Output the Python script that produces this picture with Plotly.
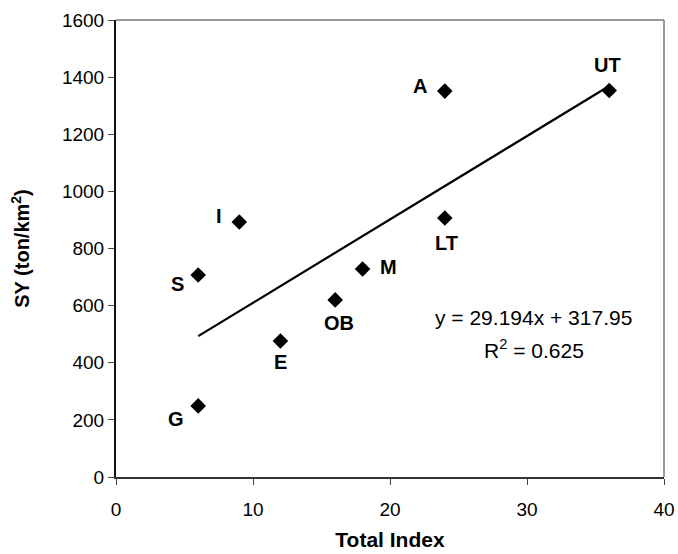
import plotly.graph_objects as go

labels = ["I", "S", "G", "E", "OB", "M", "A", "LT", "UT"]
total_index = [9, 6, 6, 12, 16, 18, 24, 24, 36]
sy = [893, 707, 249, 476, 620, 728, 1351, 907, 1353]
slope = 29.194
intercept = 317.95
r2 = 0.625
x_ticks = [0, 10, 20, 30, 40]
y_ticks = [0, 200, 400, 600, 800, 1000, 1200, 1400, 1600]

# label offsets in pixels (dx right, dy up)
offsets = {"I": (-20, 6), "S": (-21, -9), "G": (-22, -13), "E": (0, -21),
           "OB": (4, -23), "M": (26, 2), "A": (-25, 5), "LT": (2, -25), "UT": (-2, 26)}

FONT = "Liberation Sans, Arial, sans-serif"

fig = go.Figure()
xmin, xmax = min(total_index), max(total_index)
fig.add_trace(go.Scatter(x=[xmin, xmax], y=[slope * xmin + intercept, slope * xmax + intercept],
                         mode="lines", line=dict(color="black", width=2.2), showlegend=False,
                         hoverinfo="skip"))
fig.add_trace(go.Scatter(x=total_index, y=sy, mode="markers",
                         marker=dict(symbol="diamond", size=12, color="black"),
                         showlegend=False))

for lab, xv, yv in zip(labels, total_index, sy):
    dx, dy = offsets[lab]
    fig.add_annotation(x=xv, y=yv, text=f"<b>{lab}</b>", showarrow=False,
                       xshift=dx, yshift=dy, xanchor="center", yanchor="middle",
                       font=dict(family=FONT, size=20, color="black"))

fig.add_annotation(x=30.5, y=557, text=f"y = {slope}x + {intercept}", showarrow=False,
                   xanchor="center", yanchor="middle",
                   font=dict(family=FONT, size=21, color="black"))
fig.add_annotation(x=30.5, y=448, text=f"R<sup>2</sup> = {r2}", showarrow=False,
                   xanchor="center", yanchor="middle",
                   font=dict(family=FONT, size=21, color="black"))

fig.update_xaxes(range=[0, 40], tickvals=x_ticks, ticks="outside", ticklen=6,
                 tickcolor="#444", showgrid=False, zeroline=False, automargin=False,
                 showline=True, linecolor="#333", linewidth=2, mirror=False,
                 ticklabelstandoff=8,
                 tickfont=dict(family=FONT, size=19, color="black"),
                 title=dict(text="<b>Total Index</b>", font=dict(family=FONT, size=21, color="black"),
                            standoff=14))
fig.update_yaxes(range=[0, 1600], tickvals=y_ticks, ticks="outside", ticklen=6,
                 tickcolor="#444", showgrid=False, zeroline=False, automargin=False,
                 showline=True, linecolor="#111", linewidth=2, mirror=False,
                 tickfont=dict(family=FONT, size=19, color="black"),
                 title=dict(text="<b>SY (ton/km<sup>2</sup>)</b>", font=dict(family=FONT, size=20, color="black"),
                            standoff=27))

# top and right frame (gray)
fig.add_shape(type="line", xref="paper", yref="paper", x0=0, x1=1, y0=1, y1=1,
              line=dict(color="#777", width=1.5))
fig.add_shape(type="line", xref="paper", yref="paper", x0=1, x1=1, y0=0, y1=1,
              line=dict(color="#777", width=1.5))

fig.update_layout(width=678, height=554, margin=dict(l=116, r=14, t=20, b=77),
                  plot_bgcolor="white", paper_bgcolor="white")

fig.write_html("out.html")
